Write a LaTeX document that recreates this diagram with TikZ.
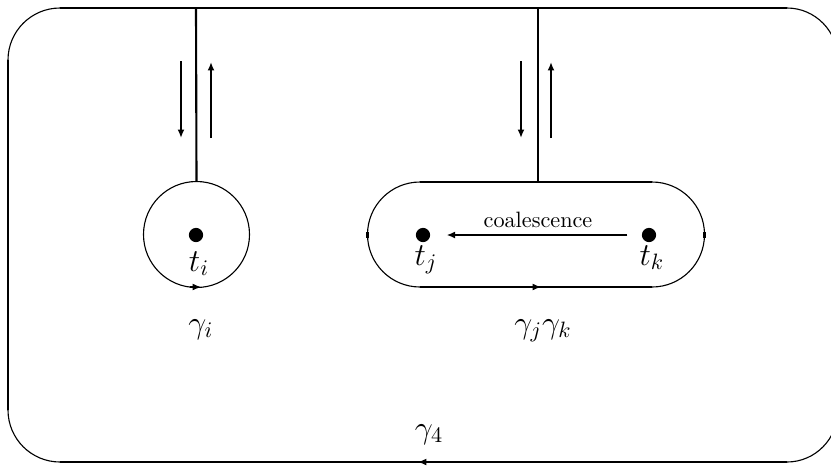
\documentclass[tikz,border=0pt]{standalone}
\usetikzlibrary{arrows.meta}
\begin{document}
\begin{tikzpicture}[x=0.45pt,y=-0.45pt,
  thickline/.style={line width=0.95pt},
  thinline/.style={line width=0.5pt},
  arr/.style={line width=0.95pt,-{Latex[length=3.8pt,width=3.1pt]}},
  midtip/.style={line width=0.5pt,-{Latex[length=3.8pt,width=3.1pt]}},
  dot/.style={circle,fill=black,inner sep=0pt,minimum size=6.4pt},
  lab/.style={font=\Large,anchor=base,inner sep=0pt}]
\useasboundingbox (0,0) rectangle (831,470);
\clip (0,0) rectangle (831,470);
% outer contour
\coordinate (tl1) at (8,60);
\coordinate (tl2) at (60,8);
\coordinate (tr1) at (787,8);
\coordinate (tr2) at (838,60);
\coordinate (br1) at (838,410);
\coordinate (br2) at (787,462);
\coordinate (bl1) at (60,462);
\coordinate (bl2) at (8,410);
\draw[thickline] (tl2) -- (tr1);
\draw[thinline] (tr1) arc (270:360:51 and 52);
\draw[thickline] (tr2) -- (br1);
\draw[thinline] (br1) arc (0:90:51 and 52);
\draw[thickline] (br2) -- (bl1);
\draw[thinline] (bl1) arc (90:180:52);
\draw[thickline] (bl2) -- (tl1);
\draw[thinline] (tl1) arc (180:270:52);
\draw[midtip] (428,462) -- (418,462);
% left loop
\node[circle,draw,thinline,inner sep=0pt,minimum size=47.7pt] (ci) at (196.5,234.5) {};
\node[dot] (ti) at (196,235) {};
\coordinate (ctop) at (196,8);
\draw[thickline] (ctop) -- (ci.north);
\draw[midtip] (190,287) -- (201,287);
\node[lab] (lti) at (199,271) {$t_i$};
\node[lab] (gi) at (201,333) {$\gamma_i$};
\coordinate (a1s) at (181,61);
\coordinate (a1e) at (181,138);
\coordinate (a2s) at (211,138);
\coordinate (a2e) at (211,62);
\draw[arr] (a1s) -- (a1e);
\draw[arr] (a2s) -- (a2e);
% right loop (stadium)
\coordinate (stl) at (420,182);
\coordinate (str) at (652,182);
\coordinate (sbr) at (652,287);
\coordinate (sbl) at (420,287);
\coordinate (stop) at (538,182);
\coordinate (stopline) at (538,8);
\draw[thickline] (stl) -- (str);
\draw[thinline] (str) arc (270:450:52.5);
\draw[thickline] (sbr) -- (sbl);
\draw[thinline] (sbl) arc (90:270:52.5);
\draw[thickline] (367.5,231.5) -- (367.5,237.5);
\draw[thickline] (704.5,231.5) -- (704.5,237.5);
\draw[midtip] (530,287) -- (541,287);
\draw[thickline] (stopline) -- (stop);
\node[dot] (tj) at (423,235) {};
\node[dot] (tk) at (649,235) {};
\draw[arr,shorten <=6.3pt,shorten >=7.2pt] (tk) -- (tj);
\node[anchor=base,inner sep=0pt] (coal) at (538,227) {coalescence};
\node[lab] (ltj) at (426,265) {$t_j$};
\node[lab] (ltk) at (652,265) {$t_k$};
\node[lab] (gjk) at (543,333) {$\gamma_j\gamma_k$};
\node[lab] (g4) at (429,438) {$\gamma_4$};
\coordinate (b1s) at (521,61);
\coordinate (b1e) at (521,138);
\coordinate (b2s) at (551,138);
\coordinate (b2e) at (551,62);
\draw[arr] (b1s) -- (b1e);
\draw[arr] (b2s) -- (b2e);
\end{tikzpicture}
\end{document}
